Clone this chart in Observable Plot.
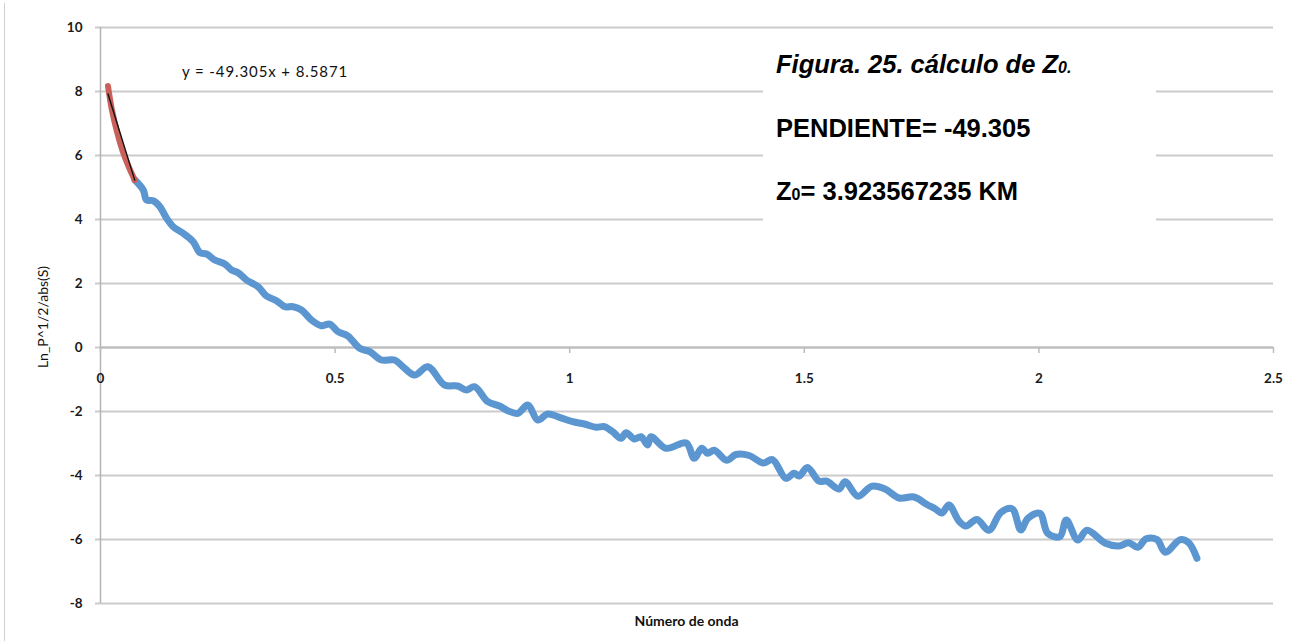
<!DOCTYPE html>
<html>
<head>
<meta charset="utf-8">
<script src="https://cdn.jsdelivr.net/npm/d3@7"></script>
<script src="https://cdn.jsdelivr.net/npm/@observablehq/plot@0.6"></script>
<style>
  html, body { margin: 0; padding: 0; background: #fff; }
  #wrap { position: relative; width: 1301px; height: 641px; overflow: hidden; }
  #wrap svg { display: block; }
  .abs { position: absolute; white-space: nowrap; }
  #frameLeft { left: 4px; top: 3px; height: 638px; width: 0; border-left: 1.5px solid #cfcfcf; }
  #box { left: 763px; top: 40px; width: 393px; height: 196px; background: #fff; }
  .boxline { position: absolute; left: 13px; font-family: "Liberation Sans", Arial, sans-serif; font-weight: bold; font-size: 25.5px; line-height: 25px; color: #000; }
  .sub { font-size: 16px; }
  #eq { left: 182px; top: 64px; font-family: Lato, "Open Sans", sans-serif; font-size: 15px; letter-spacing: 0.9px; line-height: 15px; color: #111; }
  #xtitle { left: 0; width: 1373px; top: 613px; text-align: center; font-family: Lato, sans-serif; font-weight: bold; font-size: 14px; line-height: 16px; color: #111; }
  #ytitle { left: 43px; top: 317px; transform: translate(-50%, -50%) rotate(-90deg); font-family: Lato, sans-serif; font-size: 14px; line-height: 16px; color: #111; }
</style>
</head>
<body>
<div id="wrap"></div>
<script>
// ---- data ----
const xTicks = [0, 0.5, 1, 1.5, 2, 2.5];
const xTickLabels = ["0", "0.5", "1", "1.5", "2", "2.5"];
const yTicks = [-8, -6, -4, -2, 0, 2, 4, 6, 8, 10];

// blue series: wave number vs Ln_P^1/2/abs(S)
const waveNumber = [
  0.0734, 0.0911, 0.0983, 0.1124, 0.1267, 0.1409, 0.1550, 0.1762, 0.1975, 0.2118,
  0.2261, 0.2437, 0.2650, 0.2793, 0.2933, 0.3112, 0.3359, 0.3538, 0.3751, 0.3927,
  0.4104, 0.4283, 0.4496, 0.4708, 0.4885, 0.5062, 0.5275, 0.5524, 0.5737, 0.5986,
  0.6269, 0.6445, 0.6694, 0.6977, 0.7333, 0.7616, 0.7795, 0.7972, 0.8255, 0.8504,
  0.8680, 0.8893, 0.9106, 0.9319, 0.9532, 0.9781, 1.0064, 1.0313, 1.0562, 1.0739,
  1.0915, 1.1094, 1.1201, 1.1377, 1.1520, 1.1660, 1.1733, 1.2052, 1.2484, 1.2654,
  1.2814, 1.2937, 1.3080, 1.3346, 1.3542, 1.3825, 1.4123, 1.4321, 1.4606, 1.4783,
  1.4890, 1.5066, 1.5315, 1.5475, 1.5741, 1.5869, 1.6145, 1.6433, 1.6720, 1.7018,
  1.7337, 1.7614, 1.7795, 1.7933, 1.8082, 1.8295, 1.8444, 1.8678, 1.8934, 1.9189,
  1.9430, 1.9615, 1.9764, 2.0019, 2.0189, 2.0445, 2.0583, 2.0828, 2.1026, 2.1418,
  2.1701, 2.1914, 2.2105, 2.2286, 2.2516, 2.2695, 2.3014, 2.3191, 2.3368
];
const lnValue = [
  5.234, 4.922, 4.609, 4.588, 4.400, 4.038, 3.775, 3.569, 3.306, 2.963,
  2.922, 2.734, 2.609, 2.422, 2.338, 2.109, 1.900, 1.609, 1.463, 1.275,
  1.275, 1.172, 0.859, 0.681, 0.734, 0.494, 0.359, -0.025, -0.131, -0.391,
  -0.391, -0.600, -0.859, -0.600, -1.172, -1.203, -1.328, -1.225, -1.694, -1.828,
  -1.975, -2.056, -1.797, -2.266, -2.078, -2.181, -2.319, -2.391, -2.494, -2.475,
  -2.631, -2.838, -2.663, -2.859, -2.788, -3.047, -2.788, -3.150, -2.984, -3.463,
  -3.150, -3.306, -3.213, -3.525, -3.344, -3.375, -3.609, -3.506, -4.088, -3.931,
  -4.016, -3.750, -4.178, -4.178, -4.422, -4.194, -4.650, -4.338, -4.422, -4.703,
  -4.672, -4.906, -5.047, -5.172, -4.922, -5.422, -5.578, -5.375, -5.713, -5.156,
  -5.041, -5.703, -5.338, -5.181, -5.806, -5.913, -5.391, -6.016, -5.713, -6.119,
  -6.203, -6.100, -6.244, -5.978, -6.003, -6.397, -6.003, -6.100, -6.588
];

// red series: first points used for the fit
const fitWave = [0.016, 0.024, 0.035, 0.047, 0.060, 0.073];
const fitLn = [8.17, 7.45, 6.75, 6.15, 5.65, 5.23];

// black linear trendline (as drawn)
const trendWave = [0.016, 0.073];
const trendLn = [7.92, 5.23];

const equationText = "y = -49.305x + 8.5871";
const xTitle = "Número de onda";
const yTitle = "Ln_P^1/2/abs(S)";

// ---- build ----
const blue = waveNumber.map((x, i) => ({x, y: lnValue[i]}));
const red = fitWave.map((x, i) => ({x, y: fitLn[i]}));
const trend = trendWave.map((x, i) => ({x, y: trendLn[i]}));
const gridCol = "#cbcbcb";

const chart = Plot.plot({
  width: 1301,
  height: 641,
  marginLeft: 100,
  marginRight: 28,
  marginTop: 27,
  marginBottom: 38,
  style: {background: "#fff", color: "#1a1a1a", fontFamily: "Lato, 'Open Sans', sans-serif", fontSize: "13.5px"},
  x: {domain: [0, 2.5], axis: null},
  y: {domain: [-8, 10]},
  marks: [
    Plot.gridY(yTicks, {stroke: gridCol, strokeWidth: 2, strokeOpacity: 1}),
    Plot.axisY(yTicks, {tickSize: 5, tickPadding: 13, stroke: gridCol, strokeWidth: 2, fontWeight: "bold", tickFormat: d => String(d), label: null}),
    Plot.ruleX([0], {stroke: "#b4b4b4", strokeWidth: 1.5}),
    Plot.ruleY([0], {stroke: "#bcbcbc", strokeWidth: 2}),
    Plot.ruleX(xTicks, {x: d => d, y1: 0, y2: 0, insetBottom: -6, stroke: "#bcbcbc", strokeWidth: 1.5}),
    Plot.text(xTicks, {x: d => d, y: 0, text: (d, i) => xTickLabels[i], dy: 31, fontWeight: "bold"}),
    Plot.line(blue, {x: "x", y: "y", stroke: "#5b96d0", strokeWidth: 7, curve: "catmull-rom", strokeLinejoin: "round", strokeLinecap: "round"}),
    Plot.line(red, {x: "x", y: "y", stroke: "#c9605a", strokeWidth: 6, curve: "catmull-rom", strokeLinecap: "round"}),
    Plot.line(trend, {x: "x", y: "y", stroke: "#111", strokeWidth: 1.4})
  ]
});

const wrap = document.getElementById("wrap");
wrap.appendChild(chart);

function addDiv(id, html, cls) {
  const d = document.createElement("div");
  if (id) d.id = id;
  d.className = cls || "abs";
  d.innerHTML = html;
  wrap.appendChild(d);
  return d;
}
addDiv("frameLeft", "");
addDiv("eq", equationText);
addDiv("xtitle", xTitle);
addDiv("ytitle", yTitle);
const box = addDiv("box", "");
const lines = [
  {top: 12, html: "<i>Figura. 25. cálculo de Z<span class='sub'>0.</span></i>"},
  {top: 76, html: "PENDIENTE= -49.305"},
  {top: 139, html: "Z<span class='sub'>0</span>= 3.923567235 KM"}
];
lines.forEach(l => {
  const d = document.createElement("div");
  d.className = "boxline";
  d.style.top = l.top + "px";
  d.innerHTML = l.html;
  box.appendChild(d);
});
</script>
</body>
</html>
